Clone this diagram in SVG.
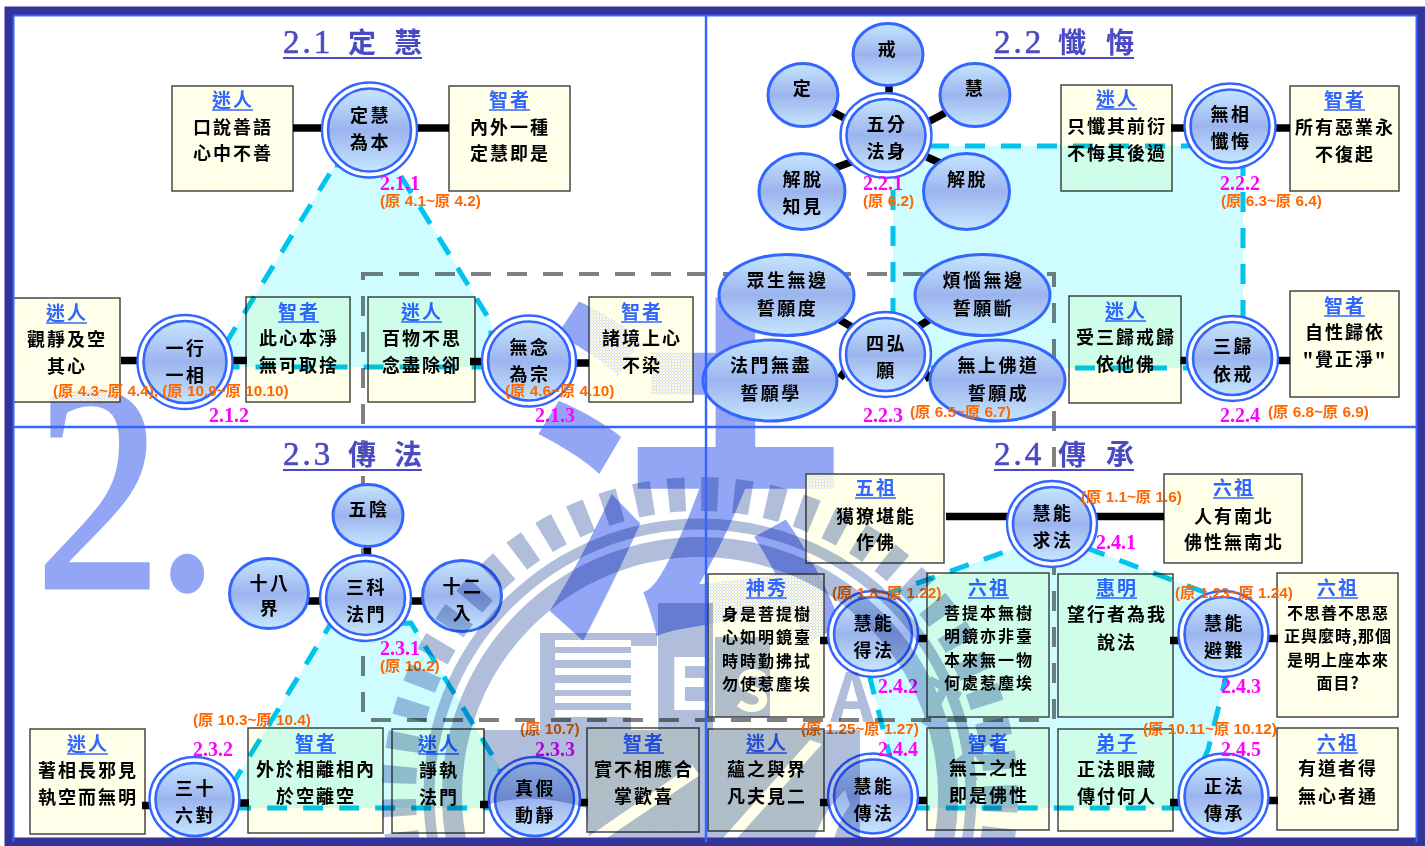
<svg xmlns="http://www.w3.org/2000/svg" width="1425" height="846" viewBox="0 0 1425 846">
<style>
text{font-family:"Noto Sans CJK TC","Noto Sans CJK SC",sans-serif;text-anchor:middle}
.bx{fill:url(#halftone);stroke:#3a3a3a;stroke-width:1.4}
.h{font-size:19px;font-weight:700;letter-spacing:2px;fill:#3366ff}
.hl{stroke:#3366ff;stroke-width:1.6}
.b{font-size:18px;font-weight:700;letter-spacing:2px;fill:#000}
.s{font-size:16px;font-weight:700;letter-spacing:2px;fill:#000}
.s2{font-size:16px;font-weight:700;letter-spacing:1px;fill:#000}
.n{font-size:18px;font-weight:700;letter-spacing:2.5px;fill:#000}
.c{fill:url(#ball);stroke:#3366ff;stroke-width:3}
.o1{fill:#fff;stroke:#3366ff;stroke-width:2.4}
.i1{fill:url(#ball);stroke:#3366ff;stroke-width:2.6}
.m{font-family:"Liberation Serif",serif;font-size:20px;font-weight:700;fill:#ff00ff;text-anchor:start}
.o{font-family:"Liberation Sans","Noto Sans CJK TC",sans-serif;font-size:15.300px;font-weight:700;fill:#ff6600;text-anchor:start}
.ti{font-size:28px;font-weight:700;fill:#4a4ac4;text-anchor:start}
.tn{font-family:"Liberation Serif",serif;font-size:33px;font-weight:400;letter-spacing:3px;stroke:#4a4ac4;stroke-width:.6}
.tl{stroke:#4a4ac4;stroke-width:2}
.reg{fill:#cffdff;stroke:#00c4ee;stroke-width:5;stroke-dasharray:20 16;mix-blend-mode:multiply}
.bar{stroke:#000;stroke-width:7.500;fill:none}
.fr{stroke:#3366ff;stroke-width:2.400}
.sealf{fill:#b0bedc}
.sealr{fill:none;stroke:#b0bedc}
.wm{fill:#93a6f5}
</style>
<defs>
<pattern id="halftone" width="3" height="3" patternUnits="userSpaceOnUse"><rect width="2" height="2" fill="#ffffd8"/><rect x="2" y="2" width="1" height="1" fill="#ffffd8"/><rect x="2" width="1" height="2" fill="#ffffff" fill-opacity=".6"/><rect y="2" width="2" height="1" fill="#ffffff" fill-opacity=".6"/></pattern>
<linearGradient id="ball" x1="0" y1="0" x2="0" y2="1"><stop offset="0" stop-color="#c6e6ff"/><stop offset=".5" stop-color="#9cb4ee"/><stop offset="1" stop-color="#c6e6ff"/></linearGradient>
</defs>
<rect width="1425" height="846" fill="#fff"/>
<g id="watermark">
<text class="wm" transform="translate(36 587) scale(.85 1)" x="0 141" y="0" font-size="295" stroke="#93a6f5" stroke-width="5" style="font-family:'Liberation Serif',serif;text-anchor:start">2.</text>
<text class="wm" transform="translate(527 612) scale(.88 1)" font-size="370" font-weight="700" style="text-anchor:start">法</text>
</g>
<rect x="363" y="274" width="691" height="446" fill="none" stroke="#808080" stroke-width="4" stroke-dasharray="20 16"/>

<g id="box-2-1-a"><rect class="bx" x="172" y="86" width="121" height="105"/><text class="h" x="233" y="107">迷人</text><line class="hl" x1="212" x2="253" y1="110" y2="110"/><text class="b" x="233" y="134">口說善語</text><text class="b" x="233" y="160">心中不善</text></g>
<g id="box-2-1-b"><rect class="bx" x="449" y="86" width="121" height="105"/><text class="h" x="510" y="107">智者</text><line class="hl" x1="489" x2="530" y1="110" y2="110"/><text class="b" x="510" y="134">內外一種</text><text class="b" x="510" y="160">定慧即是</text></g>
<g id="box-2-1-c"><rect class="bx" x="13" y="298" width="107" height="104"/><text class="h" x="67" y="320">迷人</text><line class="hl" x1="46" x2="87" y1="323" y2="323"/><text class="b" x="67" y="346">觀靜及空</text><text class="b" x="67" y="373">其心</text></g>
<g id="box-2-1-d"><rect class="bx" x="246" y="297" width="104" height="105"/><text class="h" x="299" y="319">智者</text><line class="hl" x1="278" x2="319" y1="322" y2="322"/><text class="b" x="299" y="345">此心本淨</text><text class="b" x="299" y="372">無可取捨</text></g>
<g id="box-2-1-e"><rect class="bx" x="368" y="297" width="107" height="105"/><text class="h" x="422" y="319">迷人</text><line class="hl" x1="401" x2="442" y1="322" y2="322"/><text class="b" x="422" y="345">百物不思</text><text class="b" x="422" y="372">念盡除卻</text></g>
<g id="box-2-1-f"><rect class="bx" x="589" y="297" width="104" height="105"/><text class="h" x="642" y="319">智者</text><line class="hl" x1="621" x2="662" y1="322" y2="322"/><text class="b" x="642" y="345">諸境上心</text><text class="b" x="642" y="372">不染</text></g>

<g id="box-2-2-a"><rect class="bx" x="1061" y="85" width="111" height="106"/><text class="h" x="1117" y="106">迷人</text><line class="hl" x1="1096" x2="1137" y1="109" y2="109"/><text class="b" x="1117" y="133">只懺其前衍</text><text class="b" x="1117" y="160">不悔其後過</text></g>
<g id="box-2-2-b"><rect class="bx" x="1290" y="86" width="109" height="105"/><text class="h" x="1345" y="107">智者</text><line class="hl" x1="1324" x2="1365" y1="110" y2="110"/><text class="b" x="1345" y="134">所有惡業永</text><text class="b" x="1345" y="161">不復起</text></g>
<g id="box-2-2-c"><rect class="bx" x="1069" y="296" width="112" height="107"/><text class="h" x="1126" y="318">迷人</text><line class="hl" x1="1105" x2="1146" y1="321" y2="321"/><text class="b" x="1126" y="344">受三歸戒歸</text><text class="b" x="1126" y="371">依他佛</text></g>
<g id="box-2-2-d"><rect class="bx" x="1290" y="291" width="109" height="106"/><text class="h" x="1345" y="313">智者</text><line class="hl" x1="1324" x2="1365" y1="316" y2="316"/><text class="b" x="1345" y="339">自性歸依</text><text class="b" x="1345" y="366">"覺正淨"</text></g>

<g id="box-2-3-a"><rect class="bx" x="30" y="729" width="115" height="105"/><text class="h" x="88" y="751">迷人</text><line class="hl" x1="67" x2="108" y1="754" y2="754"/><text class="b" x="88" y="777">著相長邪見</text><text class="b" x="88" y="804">執空而無明</text></g>
<g id="box-2-3-b"><rect class="bx" x="248" y="728" width="135" height="105"/><text class="h" x="316" y="750">智者</text><line class="hl" x1="295" x2="336" y1="753" y2="753"/><text class="b" x="316" y="776">外於相離相內</text><text class="b" x="316" y="803">於空離空</text></g>
<g id="box-2-3-c"><rect class="bx" x="392" y="729" width="92" height="104"/><text class="h" x="439" y="751">迷人</text><line class="hl" x1="418" x2="459" y1="754" y2="754"/><text class="b" x="439" y="777">諍執</text><text class="b" x="439" y="804">法門</text></g>
<g id="box-2-3-d"><rect class="bx" x="587" y="728" width="112" height="104"/><text class="h" x="644" y="750">智者</text><line class="hl" x1="623" x2="664" y1="753" y2="753"/><text class="b" x="644" y="776">實不相應合</text><text class="b" x="644" y="803">掌歡喜</text></g>

<g id="box-2-4-a"><rect class="bx" x="806" y="474" width="138" height="89"/><text class="h" x="876" y="495">五祖</text><line class="hl" x1="855" x2="896" y1="498" y2="498"/><text class="b" x="876" y="523">獦獠堪能</text><text class="b" x="876" y="549">作佛</text></g>
<g id="box-2-4-b"><rect class="bx" x="1164" y="474" width="138" height="89"/><text class="h" x="1234" y="495">六祖</text><line class="hl" x1="1213" x2="1254" y1="498" y2="498"/><text class="b" x="1234" y="523">人有南北</text><text class="b" x="1234" y="549">佛性無南北</text></g>
<g id="box-2-4-c"><rect class="bx" x="708" y="574" width="116" height="143"/><text class="h" x="767" y="595">神秀</text><line class="hl" x1="746" x2="787" y1="598" y2="598"/><text class="s" x="767" y="620">身是菩提樹</text><text class="s" x="767" y="643">心如明鏡臺</text><text class="s" x="767" y="667">時時勤拂拭</text><text class="s" x="767" y="690">勿使惹塵埃</text></g>
<g id="box-2-4-d"><rect class="bx" x="927" y="573" width="122" height="144"/><text class="h" x="989" y="595">六祖</text><line class="hl" x1="968" x2="1009" y1="598" y2="598"/><text class="s" x="989" y="619">菩提本無樹</text><text class="s" x="989" y="642">明鏡亦非臺</text><text class="s" x="989" y="666">本來無一物</text><text class="s" x="989" y="689">何處惹塵埃</text></g>
<g id="box-2-4-e"><rect class="bx" x="1058" y="574" width="115" height="143"/><text class="h" x="1117" y="595">惠明</text><line class="hl" x1="1096" x2="1137" y1="598" y2="598"/><text class="b" x="1117" y="621">望行者為我</text><text class="b" x="1117" y="649">說法</text></g>
<g id="box-2-4-f"><rect class="bx" x="1277" y="573" width="121" height="144"/><text class="h" x="1338" y="595">六祖</text><line class="hl" x1="1317" x2="1358" y1="598" y2="598"/><text class="s2" x="1338" y="619">不思善不思惡</text><text class="s2" x="1338" y="642">正與麼時,那個</text><text class="s2" x="1338" y="666">是明上座本來</text><text class="s2" x="1338" y="689">面目?</text></g>
<g id="box-2-4-g"><rect class="bx" x="708" y="729" width="116" height="102"/><text class="h" x="767" y="750">迷人</text><line class="hl" x1="746" x2="787" y1="753" y2="753"/><text class="b" x="767" y="776">蘊之與界</text><text class="b" x="767" y="803">凡夫見二</text></g>
<g id="box-2-4-h"><rect class="bx" x="927" y="728" width="122" height="102"/><text class="h" x="989" y="750">智者</text><line class="hl" x1="968" x2="1009" y1="753" y2="753"/><text class="b" x="989" y="775">無二之性</text><text class="b" x="989" y="802">即是佛性</text></g>
<g id="box-2-4-i"><rect class="bx" x="1058" y="729" width="115" height="102"/><text class="h" x="1117" y="750">弟子</text><line class="hl" x1="1096" x2="1137" y1="753" y2="753"/><text class="b" x="1117" y="776">正法眼藏</text><text class="b" x="1117" y="803">傳付何人</text></g>
<g id="box-2-4-j"><rect class="bx" x="1277" y="728" width="121" height="102"/><text class="h" x="1338" y="750">六祖</text><line class="hl" x1="1317" x2="1358" y1="753" y2="753"/><text class="b" x="1338" y="775">有道者得</text><text class="b" x="1338" y="803">無心者通</text></g>

<g id="regions">
<polygon class="reg" points="335,165 394,165 491,322 491,367 226,367 226,343"/>
<rect class="reg" x="893" y="146" width="350" height="222"/>
<polygon class="reg" points="330,625 411,623 500,768 500,808 235,808 235,780"/>
<polygon class="reg" points="1052,535 1204,592 1235,640 1208,750 1181,808 903,808 868,670 870,600"/>
</g>

<g id="connectors" class="bar">
<path d="M293 128H322M417 128H449M121 360.500H138M231 360.500H247M470 361.500H484M574 363H589"/>
<path d="M889 86V97M833 112L847 119.500M928 122L945 113M835 168L851 162M927 157L940 163M840 320L853.500 328M917.500 327L929 320M840 378L846 370M925 372L930 380M1171 128H1185M1275 128H1290M1180.500 360.500H1190M1275 360.500H1290"/>
<path d="M367.500 547V558M308 601H322M408.500 601H423.500M142 805.500H152M238 803H249M480 804.500H491M577 802.500H588"/>
<path d="M946 516.500H1008M1095 516.500H1164M820 640.500H830M918 638.500H927M1170 640.500H1181M1267 638.500H1278M820 802.500H830M918 800.500H927M1170 802.500H1181M1267 800.500H1278"/>
</g>

<g id="n-dinghui"><ellipse class="o1" cx="369.500" cy="130" rx="47.500" ry="47.500"/><ellipse class="i1" cx="369.500" cy="130" rx="41.500" ry="41.500"/><text class="n" x="370.500" y="122">定慧</text><text class="n" x="370.500" y="149">為本</text></g>
<g id="n-yixing"><ellipse class="o1" cx="185" cy="362" rx="47.500" ry="47"/><ellipse class="i1" cx="185" cy="362" rx="41.500" ry="41"/><text class="n" x="186" y="355">一行</text><text class="n" x="186" y="382">一相</text></g>
<g id="n-wunian"><ellipse class="o1" cx="529" cy="361" rx="47" ry="45.500"/><ellipse class="i1" cx="529" cy="361" rx="41" ry="39.500"/><text class="n" x="530" y="354">無念</text><text class="n" x="530" y="381">為宗</text></g>

<g id="n-jie"><ellipse class="c" cx="888" cy="54.500" rx="35" ry="31"/><text class="n" x="888" y="56">戒</text></g>
<g id="n-ding"><ellipse class="c" cx="803" cy="95" rx="35" ry="31.500"/><text class="n" x="803" y="95">定</text></g>
<g id="n-hui"><ellipse class="c" cx="975" cy="95" rx="35" ry="31.500"/><text class="n" x="975" y="95">慧</text></g>
<g id="n-wufen"><ellipse class="o1" cx="886" cy="135.500" rx="45.500" ry="42.500"/><ellipse class="i1" cx="886" cy="135.500" rx="39.500" ry="36.500"/><text class="n" x="887" y="131">五分</text><text class="n" x="887" y="158">法身</text></g>
<g id="n-jietuozhijian"><ellipse class="c" cx="802" cy="191.500" rx="43" ry="38"/><text class="n" x="803" y="186">解脫</text><text class="n" x="803" y="213">知見</text></g>
<g id="n-jietuo"><ellipse class="c" cx="966.500" cy="191.500" rx="43" ry="38"/><text class="n" x="967.500" y="186">解脫</text></g>
<g id="n-zhongsheng"><ellipse class="c" cx="786.500" cy="295" rx="67.500" ry="40.500"/><text class="n" x="787.500" y="287">眾生無邊</text><text class="n" x="787.500" y="315">誓願度</text></g>
<g id="n-fannao"><ellipse class="c" cx="982.500" cy="295" rx="67.500" ry="40.500"/><text class="n" x="983.500" y="287">煩惱無邊</text><text class="n" x="983.500" y="315">誓願斷</text></g>
<g id="n-famen"><ellipse class="c" cx="770" cy="380.500" rx="67" ry="40.500"/><text class="n" x="771" y="372">法門無盡</text><text class="n" x="771" y="400">誓願學</text></g>
<g id="n-wushang"><ellipse class="c" cx="997.500" cy="380.500" rx="67.500" ry="40.500"/><text class="n" x="998.500" y="372">無上佛道</text><text class="n" x="998.500" y="400">誓願成</text></g>
<g id="n-sihong"><ellipse class="o1" cx="885.500" cy="354.500" rx="45.500" ry="42.500"/><ellipse class="i1" cx="885.500" cy="354.500" rx="39.500" ry="36.500"/><text class="n" x="886.500" y="350">四弘</text><text class="n" x="886.500" y="377">願</text></g>
<g id="n-wuxiang"><ellipse class="o1" cx="1230" cy="126" rx="45.500" ry="42.500"/><ellipse class="i1" cx="1230" cy="126" rx="39.500" ry="36.500"/><text class="n" x="1231" y="121">無相</text><text class="n" x="1231" y="148">懺悔</text></g>
<g id="n-sangui"><ellipse class="o1" cx="1232.500" cy="358.500" rx="45.500" ry="42.500"/><ellipse class="i1" cx="1232.500" cy="358.500" rx="39.500" ry="36.500"/><text class="n" x="1233.500" y="353">三歸</text><text class="n" x="1233.500" y="381">依戒</text></g>

<g id="n-wuyin"><ellipse class="c" cx="368" cy="515.500" rx="35" ry="31"/><text class="n" x="369" y="516">五陰</text></g>
<g id="n-shiba"><ellipse class="c" cx="269" cy="593.500" rx="39.500" ry="35"/><text class="n" x="270" y="590">十八</text><text class="n" x="270" y="615">界</text></g>
<g id="n-shier"><ellipse class="c" cx="462" cy="596" rx="39.500" ry="35.500"/><text class="n" x="463" y="593">十二</text><text class="n" x="463" y="620">入</text></g>
<g id="n-sanke"><ellipse class="o1" cx="365.500" cy="598" rx="45.500" ry="43"/><ellipse class="i1" cx="365.500" cy="598" rx="39.500" ry="37"/><text class="n" x="366.500" y="594">三科</text><text class="n" x="366.500" y="621">法門</text></g>
<g id="n-sanshi"><ellipse class="o1" cx="194.500" cy="799.500" rx="45" ry="42.500"/><ellipse class="i1" cx="194.500" cy="799.500" rx="39" ry="36.500"/><text class="n" x="195.500" y="795">三十</text><text class="n" x="195.500" y="822">六對</text></g>
<g id="n-zhenjia"><ellipse class="o1" cx="534.500" cy="799.500" rx="45.500" ry="42.500"/><ellipse class="i1" cx="534.500" cy="799.500" rx="39.500" ry="36.500"/><text class="n" x="535.500" y="795">真假</text><text class="n" x="535.500" y="822">動靜</text></g>

<g id="n-qiufa"><ellipse class="o1" cx="1052" cy="524" rx="45" ry="43"/><ellipse class="i1" cx="1052" cy="524" rx="39" ry="37"/><text class="n" x="1053" y="520">慧能</text><text class="n" x="1053" y="547">求法</text></g>
<g id="n-defa"><ellipse class="o1" cx="873" cy="634" rx="45" ry="43"/><ellipse class="i1" cx="873" cy="634" rx="39" ry="37"/><text class="n" x="874" y="630">慧能</text><text class="n" x="874" y="657">得法</text></g>
<g id="n-binan"><ellipse class="o1" cx="1223.500" cy="634" rx="45" ry="43"/><ellipse class="i1" cx="1223.500" cy="634" rx="39" ry="37"/><text class="n" x="1224.500" y="630">慧能</text><text class="n" x="1224.500" y="657">避難</text></g>
<g id="n-chuanfa"><ellipse class="o1" cx="873" cy="796.500" rx="45" ry="43"/><ellipse class="i1" cx="873" cy="796.500" rx="39" ry="37"/><text class="n" x="874" y="793">慧能</text><text class="n" x="874" y="820">傳法</text></g>
<g id="n-chuancheng"><ellipse class="o1" cx="1223.500" cy="796.500" rx="45" ry="43"/><ellipse class="i1" cx="1223.500" cy="796.500" rx="39" ry="37"/><text class="n" x="1224.500" y="793">正法</text><text class="n" x="1224.500" y="820">傳承</text></g>

<g id="labels">
<text class="m" x="380" y="190">2.1.1</text><text class="o" x="380" y="206">(原 4.1~原 4.2)</text>
<text class="o" x="53" y="396">(原 4.3~原 4.4), (原 10.9~原 10.10)</text><text class="m" x="209" y="422">2.1.2</text>
<text class="o" x="505" y="396">(原 4.6~原 4.10)</text><text class="m" x="535" y="422">2.1.3</text>
<text class="m" x="863" y="190">2.2.1</text><text class="o" x="863" y="206">(原 6.2)</text>
<text class="m" x="1220" y="190">2.2.2</text><text class="o" x="1221" y="206">(原 6.3~原 6.4)</text>
<text class="m" x="863" y="422">2.2.3</text><text class="o" x="910" y="417">(原 6.5~原 6.7)</text>
<text class="m" x="1220" y="422">2.2.4</text><text class="o" x="1268" y="417">(原 6.8~原 6.9)</text>
<text class="m" x="380" y="655">2.3.1</text><text class="o" x="380" y="671">(原 10.2)</text>
<text class="o" x="193" y="725">(原 10.3~原 10.4)</text><text class="m" x="193" y="756">2.3.2</text>
<text class="o" x="520" y="734">(原 10.7)</text><text class="m" x="535" y="756">2.3.3</text>
<text class="o" x="1081" y="502">(原 1.1~原 1.6)</text><text class="m" x="1096" y="549">2.4.1</text>
<text class="o" x="832" y="598">(原 1.8~原 1.22)</text><text class="m" x="878" y="693">2.4.2</text>
<text class="o" x="1175" y="598">(原 1.23~原 1.24)</text><text class="m" x="1221" y="693">2.4.3</text>
<text class="o" x="801" y="734">(原 1.25~原 1.27)</text><text class="m" x="878" y="756">2.4.4</text>
<text class="o" x="1143" y="734">(原 10.11~原 10.12)</text><text class="m" x="1221" y="756">2.4.5</text>
</g>

<g id="titles">
<text class="ti" y="54"><tspan class="tn" x="283" y="53">2.1</tspan><tspan x="348">定</tspan><tspan x="394">慧</tspan></text><line class="tl" x1="283" x2="422" y1="58" y2="58"/>
<text class="ti" y="54"><tspan class="tn" x="994" y="53">2.2</tspan><tspan x="1058">懺</tspan><tspan x="1106">悔</tspan></text><line class="tl" x1="994" x2="1134" y1="58" y2="58"/>
<text class="ti" y="466"><tspan class="tn" x="283" y="465">2.3</tspan><tspan x="348">傳</tspan><tspan x="394">法</tspan></text><line class="tl" x1="283" x2="422" y1="470" y2="470"/>
<text class="ti" y="466"><tspan class="tn" x="994" y="465">2.4</tspan><tspan x="1058">傳</tspan><tspan x="1106">承</tspan></text><line class="tl" x1="994" x2="1134" y1="470" y2="470"/>
</g>

<g id="seal" style="mix-blend-mode:multiply">
<circle class="sealr" cx="700" cy="795" r="301" stroke-width="34" stroke-dasharray="17 16"/>
<circle class="sealr" cx="700" cy="795" r="271" stroke-width="11"/>
<circle class="sealr" cx="700" cy="795" r="248" stroke-width="20"/>
<path class="sealf" d="M483 730H860V846H590L586 808Q530 790 483 806Z"/>
<path fill="#fff" d="M575 846L692 765L700 775L595 846ZM716 846L810 740L822 744L730 846ZM812 846C820 820 830 805 845 790L850 805C842 815 836 830 832 846Z"/>
<path class="sealf" d="M540 633H657V646H631V730H540Z"/>
<path fill="#fff" d="M555 640H631V647H555ZM555 653H631V660H555ZM555 668H631V675H555ZM555 683H631V690H555ZM555 696H631V703H555ZM555 710H631V717H555Z"/>
<path class="sealf" d="M658 603H713V730H658ZM715 637H770V717H715Z"/>
<text x="690" y="710" font-size="72" font-family="Liberation Sans,sans-serif" font-weight="700" fill="#fff">E</text>
<text x="752" y="711" font-size="56" font-family="Liberation Sans,sans-serif" font-weight="700" fill="#fff">S</text>
<text x="852" y="722" font-size="68" font-family="Liberation Sans,sans-serif" font-weight="700" fill="#b0bedc">A</text>
<text x="925" y="725" font-size="62" font-family="Liberation Sans,sans-serif" font-weight="700" fill="#b0bedc" transform="rotate(28 925 725)">T</text>
<text x="962" y="772" font-size="62" font-family="Liberation Sans,sans-serif" font-weight="700" fill="#b0bedc" transform="rotate(50 962 772)">E</text>
</g>

<g id="frame">
<path d="M9 11H1421V842H9Z" fill="none" stroke="#333399" stroke-width="9"/>
<path d="M13.500 15.500H1416.500V842M13.500 15.500V842" fill="none" stroke="#3366ff" stroke-width="2"/>
<line class="fr" x1="706" x2="706" y1="15" y2="842"/>
<line class="fr" x1="14" x2="1417" y1="427" y2="427"/>
</g>
</svg>
